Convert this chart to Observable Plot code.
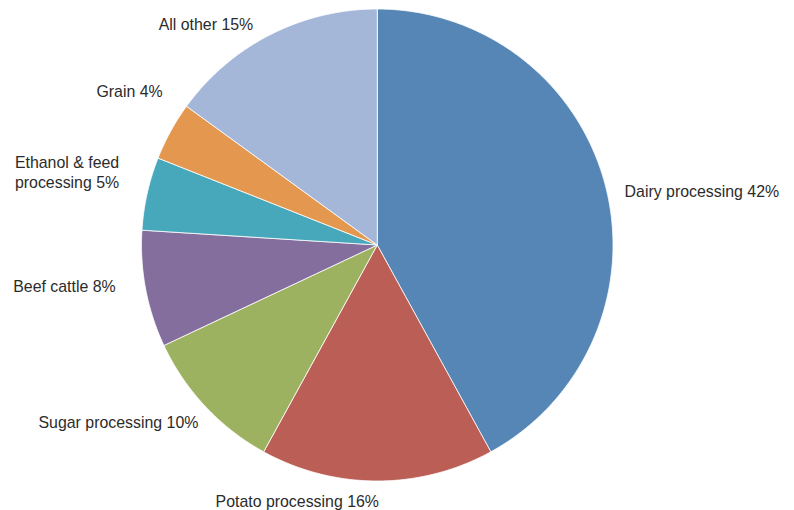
<!DOCTYPE html>
<html>
<head>
<meta charset="utf-8">
<script src="https://cdn.jsdelivr.net/npm/d3@7"></script>
<script src="https://cdn.jsdelivr.net/npm/@observablehq/plot@0.6"></script>
<style>
  html, body { margin: 0; padding: 0; background: #fff; }
  #chart { width: 794px; height: 510px; }
</style>
</head>
<body>
<div id="chart"></div>
<script>
// ---- data ----
const categories = ["Dairy processing", "Potato processing", "Sugar processing", "Beef cattle", "Ethanol & feed processing", "Grain", "All other"];
const labels = ["Dairy processing 42%", "Potato processing 16%", "Sugar processing 10%", "Beef cattle 8%", "Ethanol & feed\nprocessing 5%", "Grain 4%", "All other 15%"];
const shares = [42, 16, 10, 8, 5, 4, 15];
const colors = ["#5586b6", "#bb5e55", "#9db260", "#846e9d", "#48a8bb", "#e4974e", "#a4b7d9"];

// ---- label layout (anchor + pixel nudges from slice edge) ----
const labelAnchor = ["start", "middle", "end", "end", "end", "end", "end"];
const labelDx = [19, -80, -7, -30, -28, -8, -17];
const labelDy = [4, 20, 15, -4, -22, -41, -11];

// ---- geometry from data ----
const arcs = d3.pie().sort(null).value(d => d)(shares);
const slicePts = [];
arcs.forEach((a, i) => {
  const cat = categories[i];
  slicePts.push({cat, x: 0, y: 0});
  const n = Math.max(4, Math.ceil((a.endAngle - a.startAngle) / (Math.PI / 360)));
  for (let k = 0; k <= n; k++) {
    const t = a.startAngle + (a.endAngle - a.startAngle) * k / n;
    slicePts.push({cat, x: Math.sin(t), y: Math.cos(t)});
  }
  slicePts.push({cat, x: 0, y: 0});
});
const labelData = arcs.map((a, i) => {
  const m = (a.startAngle + a.endAngle) / 2;
  return {label: labels[i], x: Math.sin(m), y: Math.cos(m), anchor: labelAnchor[i], dx: labelDx[i], dy: labelDy[i]};
});

const textMarks = ["start", "middle", "end"].map(anchor =>
  labelData.filter(d => d.anchor === anchor).map(d =>
    Plot.text([d], {x: "x", y: "y", text: "label", textAnchor: anchor, dx: d.dx, dy: d.dy,
      fill: "#2b2b2b", fontSize: 15.9, lineHeight: 1.26, lineAnchor: "middle"})
  )
).flat();

const chart = Plot.plot({
  width: 794,
  height: 510,
  marginLeft: 141,
  marginRight: 181.5,
  marginTop: 8.5,
  marginBottom: 29.5,
  style: {fontFamily: "'Liberation Sans', Arial, Helvetica, sans-serif", background: "#fff"},
  x: {axis: null, domain: [-1, 1]},
  y: {axis: null, domain: [-1, 1]},
  color: {domain: categories, range: colors},
  marks: [
    Plot.line(slicePts, {x: "x", y: "y", z: "cat", fill: "cat", stroke: "#fff", strokeWidth: 0.8, strokeLinejoin: "round", curve: "linear"}),
    ...textMarks
  ]
});
document.getElementById("chart").appendChild(chart);
</script>
</body>
</html>
